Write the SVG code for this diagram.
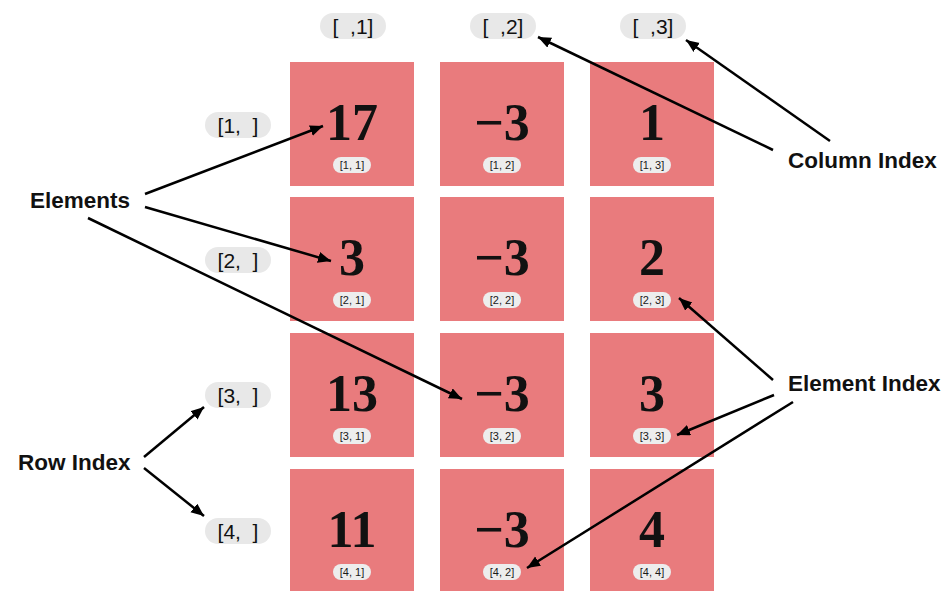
<svg xmlns="http://www.w3.org/2000/svg" width="948" height="591" viewBox="0 0 948 591">
<style>
.cell{fill:#E97B7D}
.num{font-family:"Liberation Serif","DejaVu Serif",serif;font-weight:bold;font-size:52px;fill:#111;text-anchor:middle}
.sp{fill:#EDEDED}
.st{font-family:"Liberation Sans",Arial,sans-serif;font-size:11px;fill:#1a1a1a;text-anchor:middle}
.bp{fill:#E8E8E8}
.bt{font-family:"Liberation Sans",Arial,sans-serif;font-size:21px;fill:#111;text-anchor:middle;white-space:pre}
.lab{font-family:"Liberation Sans",Arial,sans-serif;font-weight:bold;font-size:22.5px;fill:#111}
.arr{stroke:#000;stroke-width:2.5;fill:none;marker-end:url(#ah)}
</style>
<defs>
<marker id="ah" markerUnits="userSpaceOnUse" markerWidth="14" markerHeight="12" refX="13" refY="5.5" orient="auto">
<path d="M0,0 L13,5.5 L0,11 z" fill="#000"/>
</marker>
</defs>
<rect width="948" height="591" fill="#fff"/>

<g id="col-labels">
<g id="col1"><rect class="bp" x="320" y="13" width="66" height="26" rx="13"/><text class="bt" x="353" y="34">[  ,1]</text></g>
<g id="col2"><rect class="bp" x="470" y="13" width="66" height="26" rx="13"/><text class="bt" x="503" y="34">[  ,2]</text></g>
<g id="col3"><rect class="bp" x="620" y="13" width="66" height="26" rx="13"/><text class="bt" x="653" y="34">[  ,3]</text></g>
</g>

<g id="row-labels">
<g id="row1"><rect class="bp" x="205" y="112" width="66" height="26" rx="13"/><text class="bt" x="238" y="133">[1,  ]</text></g>
<g id="row2"><rect class="bp" x="205" y="247" width="66" height="26" rx="13"/><text class="bt" x="238" y="268">[2,  ]</text></g>
<g id="row3"><rect class="bp" x="205" y="382" width="66" height="26" rx="13"/><text class="bt" x="238" y="403">[3,  ]</text></g>
<g id="row4"><rect class="bp" x="205" y="518" width="66" height="26" rx="13"/><text class="bt" x="238" y="539">[4,  ]</text></g>
</g>

<g id="c11"><rect class="cell" x="290" y="62" width="124" height="124"/><text class="num" x="352" y="140">17</text><rect class="sp" x="333" y="157" width="38" height="16" rx="8"/><text class="st" x="352" y="169">[1, 1]</text></g>
<g id="c12"><rect class="cell" x="440" y="62" width="124" height="124"/><text class="num" x="502" y="140">−3</text><rect class="sp" x="483" y="157" width="38" height="16" rx="8"/><text class="st" x="502" y="169">[1, 2]</text></g>
<g id="c13"><rect class="cell" x="590" y="62" width="124" height="124"/><text class="num" x="652" y="140">1</text><rect class="sp" x="633" y="157" width="38" height="16" rx="8"/><text class="st" x="652" y="169">[1, 3]</text></g>

<g id="c21"><rect class="cell" x="290" y="197" width="124" height="124"/><text class="num" x="352" y="275">3</text><rect class="sp" x="333" y="292" width="38" height="16" rx="8"/><text class="st" x="352" y="304">[2, 1]</text></g>
<g id="c22"><rect class="cell" x="440" y="197" width="124" height="124"/><text class="num" x="502" y="275">−3</text><rect class="sp" x="483" y="292" width="38" height="16" rx="8"/><text class="st" x="502" y="304">[2, 2]</text></g>
<g id="c23"><rect class="cell" x="590" y="197" width="124" height="124"/><text class="num" x="652" y="275">2</text><rect class="sp" x="633" y="292" width="38" height="16" rx="8"/><text class="st" x="652" y="304">[2, 3]</text></g>

<g id="c31"><rect class="cell" x="290" y="333" width="124" height="124"/><text class="num" x="352" y="411">13</text><rect class="sp" x="333" y="428" width="38" height="16" rx="8"/><text class="st" x="352" y="440">[3, 1]</text></g>
<g id="c32"><rect class="cell" x="440" y="333" width="124" height="124"/><text class="num" x="502" y="411">−3</text><rect class="sp" x="483" y="428" width="38" height="16" rx="8"/><text class="st" x="502" y="440">[3, 2]</text></g>
<g id="c33"><rect class="cell" x="590" y="333" width="124" height="124"/><text class="num" x="652" y="411">3</text><rect class="sp" x="633" y="428" width="38" height="16" rx="8"/><text class="st" x="652" y="440">[3, 3]</text></g>

<g id="c41"><rect class="cell" x="290" y="469" width="124" height="124"/><text class="num" x="352" y="547">11</text><rect class="sp" x="333" y="564" width="38" height="16" rx="8"/><text class="st" x="352" y="576">[4, 1]</text></g>
<g id="c42"><rect class="cell" x="440" y="469" width="124" height="124"/><text class="num" x="502" y="547">−3</text><rect class="sp" x="483" y="564" width="38" height="16" rx="8"/><text class="st" x="502" y="576">[4, 2]</text></g>
<g id="c43"><rect class="cell" x="590" y="469" width="124" height="124"/><text class="num" x="652" y="547">4</text><rect class="sp" x="633" y="564" width="38" height="16" rx="8"/><text class="st" x="652" y="576">[4, 4]</text></g>

<g id="elements-label"><text class="lab" x="30" y="208">Elements</text></g>
<g id="row-index-label"><text class="lab" x="18" y="470">Row Index</text></g>
<g id="column-index-label"><text class="lab" x="788" y="168">Column Index</text></g>
<g id="element-index-label"><text class="lab" x="788" y="391">Element Index</text></g>

<g id="connectors">
<line class="arr" x1="145" y1="194" x2="323" y2="126"/>
<line class="arr" x1="145" y1="207" x2="331" y2="261"/>
<line class="arr" x1="88" y1="218" x2="462" y2="399"/>
<line class="arr" x1="773" y1="150" x2="538" y2="37"/>
<line class="arr" x1="830" y1="141" x2="686" y2="40"/>
<line class="arr" x1="773" y1="380" x2="679" y2="298"/>
<line class="arr" x1="774" y1="395" x2="677" y2="435"/>
<line class="arr" x1="793" y1="402" x2="527" y2="568"/>
<line class="arr" x1="144" y1="457" x2="204" y2="407"/>
<line class="arr" x1="144" y1="468" x2="204" y2="516"/>
</g>
</svg>
